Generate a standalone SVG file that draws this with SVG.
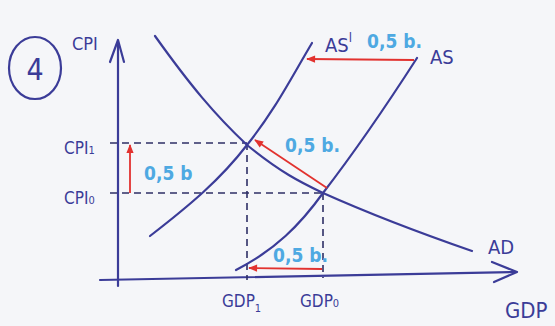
<svg xmlns="http://www.w3.org/2000/svg" width="555" height="326" viewBox="0 0 555 326">
<defs>
<style>
.ink{fill:none;stroke:#3b3c98;stroke-width:2.2;stroke-linecap:round;stroke-linejoin:round}
.dash{fill:none;stroke:#2e2f66;stroke-width:1.6;stroke-dasharray:7 5}
.red{fill:none;stroke:#e2322f;stroke-width:1.8}
.lab{font-family:"DejaVu Sans Condensed","DejaVu Sans",sans-serif;fill:#3b3c98}
.blue{font-family:"DejaVu Sans Condensed","DejaVu Sans",sans-serif;fill:#4ea9e2;font-size:19px;font-weight:bold}
</style>
<marker id="rh" viewBox="0 0 10 10" refX="9" refY="5" markerWidth="6" markerHeight="5" orient="auto">
<path d="M0,1 L10,5 L0,9 Z" fill="#e2322f"/>
</marker>
</defs>
<rect width="555" height="326" fill="#f5f6f9"/>
<g id="label-4">
<ellipse cx="35" cy="68" rx="26" ry="31" class="ink"/>
<text x="35" y="80" class="lab" font-size="30" text-anchor="middle">4</text>
</g>
<g id="axes">
<path d="M118,286 L118,42" class="ink"/>
<path d="M110,62 L118,40 L124,62" class="ink"/>
<path d="M100,280 L515,272" class="ink"/>
<path d="M492,262 L517,272 L494,282" class="ink"/>
<text x="72" y="50" class="lab" font-size="18">CPI</text>
<text x="505" y="318" class="lab" font-size="22">GDP</text>
</g>
<g id="guides">
<path d="M110,143 L247,143" class="dash"/>
<path d="M110,193 L323,193" class="dash"/>
<path d="M247,143 L247,280" class="dash"/>
<path d="M323,193 L323,278" class="dash"/>
<text x="64" y="154" class="lab" font-size="17">CPI<tspan font-size="11">1</tspan></text>
<text x="64" y="204" class="lab" font-size="17">CPI<tspan font-size="11">0</tspan></text>
<text x="222" y="307" class="lab" font-size="17">GDP<tspan font-size="11" dy="5">1</tspan></text>
<text x="300" y="307" class="lab" font-size="17">GDP<tspan font-size="11">0</tspan></text>
</g>
<g id="AD">
<path d="M155,36 C190,85 215,115 247,145 C280,172 300,182 323,193 C370,214 420,233 472,251" class="ink"/>
<text x="488" y="254" class="lab" font-size="20">AD</text>
</g>
<g id="AS">
<path d="M236,270 C275,250 300,225 323,193 C360,145 390,100 417,58" class="ink"/>
<text x="430" y="64" class="lab" font-size="20">AS</text>
</g>
<g id="AS1">
<path d="M150,236 C190,205 220,180 247,145 C275,110 290,80 312,43" class="ink"/>
<text x="325" y="52" class="lab" font-size="20">AS<tspan font-size="13" dy="-10">l</tspan></text>
</g>
<g id="connectors">
<path d="M414,60 L307,59" class="red" marker-end="url(#rh)"/>
<path d="M327,188 L255,140" class="red" marker-end="url(#rh)"/>
<path d="M130,193 L130,145" class="red" marker-end="url(#rh)"/>
<path d="M322,269 L249,268" class="red" marker-end="url(#rh)"/>
</g>
<g id="shift-labels">
<text x="367" y="48" class="blue">0,5 b.</text>
<text x="285" y="152" class="blue">0,5 b.</text>
<text x="144" y="180" class="blue">0,5 b</text>
<text x="273" y="262" class="blue">0,5 b.</text>
</g>
</svg>
